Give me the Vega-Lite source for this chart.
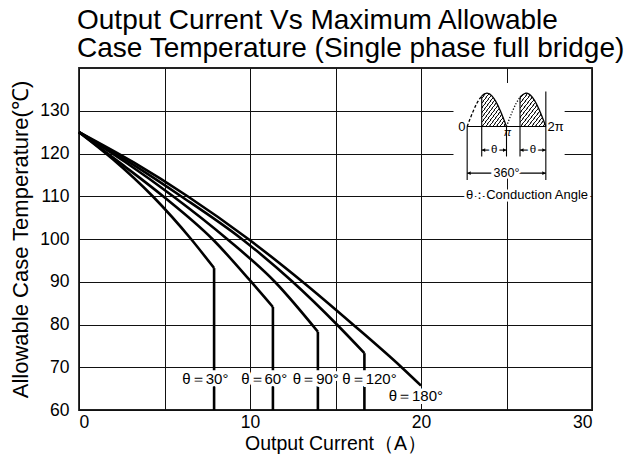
{
  "$schema": "https://vega.github.io/schema/vega-lite/v6.json",
  "width": 513,
  "height": 342,
  "autosize": {"type": "none"},
  "padding": {"left": 79, "top": 68, "right": 44, "bottom": 49},
  "background": "white",
  "title": {
    "text": ["Output Current Vs Maximum Allowable", "Case Temperature (Single phase full bridge)"],
    "anchor": "start",
    "frame": "group",
    "fontSize": 28,
    "fontWeight": "normal",
    "font": "Liberation Sans",
    "color": "#000",
    "lineHeight": 28,
    "offset": 5,
    "dx": -2
  },
  "config": {
    "view": {"stroke": "#222", "strokeWidth": 1.8},
    "axis": {
      "grid": true,
      "gridColor": "#111",
      "gridWidth": 1,
      "gridOpacity": 1,
      "domain": false,
      "ticks": false,
      "labelFont": "Liberation Sans",
      "labelFontSize": 17.5,
      "labelColor": "#000",
      "titleFont": "Liberation Sans",
      "titleFontWeight": "normal",
      "titleColor": "#000"
    }
  },
  "datasets": {
    "curves": [
      {"angle": "30", "x": 0, "y": 125}, {"angle": "30", "x": 2, "y": 118.6}, {"angle": "30", "x": 4.31, "y": 110}, {"angle": "30", "x": 6.55, "y": 100}, {"angle": "30", "x": 7.9, "y": 93.2},
      {"angle": "60", "x": 0, "y": 125}, {"angle": "60", "x": 2.4, "y": 117.8}, {"angle": "60", "x": 4.92, "y": 110}, {"angle": "60", "x": 7.8, "y": 100}, {"angle": "60", "x": 10, "y": 90.3}, {"angle": "60", "x": 11.34, "y": 84.1},
      {"angle": "90", "x": 0, "y": 125}, {"angle": "90", "x": 2.7, "y": 118.0}, {"angle": "90", "x": 5.5, "y": 110}, {"angle": "90", "x": 8.66, "y": 100}, {"angle": "90", "x": 11.45, "y": 90}, {"angle": "90", "x": 13.97, "y": 78.3},
      {"angle": "120", "x": 0, "y": 125}, {"angle": "120", "x": 3, "y": 117.8}, {"angle": "120", "x": 5.97, "y": 110}, {"angle": "120", "x": 9.52, "y": 100}, {"angle": "120", "x": 12.49, "y": 90}, {"angle": "120", "x": 15.08, "y": 80}, {"angle": "120", "x": 16.69, "y": 73.3},
      {"angle": "180", "x": 0, "y": 125}, {"angle": "180", "x": 3.2, "y": 117.9}, {"angle": "180", "x": 6.35, "y": 110}, {"angle": "180", "x": 9.9, "y": 100}, {"angle": "180", "x": 13.07, "y": 90}, {"angle": "180", "x": 16.02, "y": 80}, {"angle": "180", "x": 18.86, "y": 70}, {"angle": "180", "x": 20, "y": 65.7}
    ],
    "drops": [
      {"angle": "30", "x": 7.9, "y": 93.2, "y2": 69.3}, {"angle": "30", "x": 7.9, "y": 65.6, "y2": 60},
      {"angle": "60", "x": 11.34, "y": 84.1, "y2": 69.3}, {"angle": "60", "x": 11.34, "y": 65.6, "y2": 60},
      {"angle": "90", "x": 13.97, "y": 78.3, "y2": 69.3}, {"angle": "90", "x": 13.97, "y": 65.6, "y2": 60},
      {"angle": "120", "x": 16.69, "y": 73.3, "y2": 69.3}, {"angle": "120", "x": 16.69, "y": 65.6, "y2": 60}
    ],
    "labels": [
      {"x": 7.39, "y": 67.2, "text": "θ＝30°"},
      {"x": 10.83, "y": 67.2, "text": "θ＝60°"},
      {"x": 13.85, "y": 67.2, "text": "θ＝90°"},
      {"x": 16.99, "y": 67.2, "text": "θ＝120°"},
      {"x": 19.7, "y": 63.35, "text": "θ＝180°"}
    ],
    "insetbg": [{"x": 21.9, "x2": 28.4, "y": 114.3, "y2": 136.5}],
    "hatch": [
      {"part": "h1", "x": 23.551, "y": 133.46, "y2": 126.3}, {"part": "h1", "x": 23.85, "y": 134.1, "y2": 126.3}, {"part": "h1", "x": 24.149, "y": 133.46, "y2": 126.3}, {"part": "h1", "x": 24.425, "y": 131.81, "y2": 126.3}, {"part": "h1", "x": 24.655, "y": 129.84, "y2": 126.3}, {"part": "h1", "x": 25.0, "y": 126.3, "y2": 126.3},
      {"part": "h2", "x": 25.79, "y": 133.16, "y2": 126.3}, {"part": "h2", "x": 26.15, "y": 134.1, "y2": 126.3}, {"part": "h2", "x": 26.449, "y": 133.46, "y2": 126.3}, {"part": "h2", "x": 26.725, "y": 131.81, "y2": 126.3}, {"part": "h2", "x": 26.955, "y": 129.84, "y2": 126.3}, {"part": "h2", "x": 27.3, "y": 126.3, "y2": 126.3}
    ],
    "wave": [
      {"part": "d1", "style": "dashed", "x": 22.7, "y": 126.3}, {"part": "d1", "style": "dashed", "x": 23.045, "y": 129.84}, {"part": "d1", "style": "dashed", "x": 23.275, "y": 131.81}, {"part": "d1", "style": "dashed", "x": 23.551, "y": 133.46},
      {"part": "s1", "style": "solid", "x": 23.551, "y": 133.46}, {"part": "s1", "style": "solid", "x": 23.85, "y": 134.1}, {"part": "s1", "style": "solid", "x": 24.149, "y": 133.46}, {"part": "s1", "style": "solid", "x": 24.425, "y": 131.81}, {"part": "s1", "style": "solid", "x": 24.655, "y": 129.84}, {"part": "s1", "style": "solid", "x": 25.0, "y": 126.3},
      {"part": "d2", "style": "dotted", "x": 25.0, "y": 126.3}, {"part": "d2", "style": "dotted", "x": 25.345, "y": 129.84}, {"part": "d2", "style": "dotted", "x": 25.575, "y": 131.81}, {"part": "d2", "style": "dotted", "x": 25.79, "y": 133.16},
      {"part": "s2", "style": "solid", "x": 25.79, "y": 133.16}, {"part": "s2", "style": "solid", "x": 26.15, "y": 134.1}, {"part": "s2", "style": "solid", "x": 26.449, "y": 133.46}, {"part": "s2", "style": "solid", "x": 26.725, "y": 131.81}, {"part": "s2", "style": "solid", "x": 26.955, "y": 129.84}, {"part": "s2", "style": "solid", "x": 27.3, "y": 126.3}
    ],
    "insetrules": [
      {"x": 22.7, "y": 126.3, "x2": 27.3, "y2": 126.3},
      {"x": 22.7, "y": 126.3, "x2": 22.7, "y2": 113.8},
      {"x": 27.3, "y": 134.5, "x2": 27.3, "y2": 113.8},
      {"x": 23.551, "y": 133.46, "x2": 23.551, "y2": 119.3},
      {"x": 25.0, "y": 126.3, "x2": 25.0, "y2": 119.3},
      {"x": 25.79, "y": 133.16, "x2": 25.79, "y2": 119.3},
      {"x": 23.551, "y": 120.8, "x2": 25.0, "y2": 120.8},
      {"x": 25.79, "y": 120.8, "x2": 27.3, "y2": 120.8},
      {"x": 22.7, "y": 115.4, "x2": 27.3, "y2": 115.4}
    ],
    "arrows": [
      {"x": 23.66, "y": 120.8, "dir": "left"}, {"x": 24.89, "y": 120.8, "dir": "right"},
      {"x": 25.9, "y": 120.8, "dir": "left"}, {"x": 27.19, "y": 120.8, "dir": "right"},
      {"x": 22.81, "y": 115.4, "dir": "left"}, {"x": 27.19, "y": 115.4, "dir": "right"}
    ],
    "insettext": [
      {"x": 24.28, "y": 120.8, "text": "θ", "size": 11.5},
      {"x": 26.55, "y": 120.8, "text": "θ", "size": 11.5},
      {"x": 25.0, "y": 115.4, "text": "360°", "size": 12.5},
      {"x": 26.2, "y": 110.3, "text": "θ：Conduction Angle", "size": 13}
    ],
    "insetplain": [
      {"x": 25.05, "y": 124.9, "text": "π", "size": 11}
    ],
    "insetright": [{"x": 22.6, "y": 126.3, "text": "0"}],
    "insetleft": [{"x": 27.4, "y": 126.3, "text": "2π"}]
  },
  "encoding": {
    "x": {
      "field": "x",
      "type": "quantitative",
      "scale": {"domain": [0, 30], "nice": false, "zero": false},
      "axis": {
        "values": [0, 5, 10, 15, 20, 25, 30],
        "labelExpr": "datum.value % 10 === 0 ? datum.label : ''",
        "title": "Output Current（A）",
        "titleFontSize": 19.5,
        "labelPadding": 3,
        "titlePadding": 4
      }
    },
    "y": {
      "field": "y",
      "type": "quantitative",
      "scale": {"domain": [60, 140], "nice": false, "zero": false},
      "axis": {
        "values": [60, 70, 80, 90, 100, 110, 120, 130],
        "title": "Allowable Case Temperature(℃)",
        "titleFontSize": 22,
        "labelPadding": 10,
        "titlePadding": 7
      }
    }
  },
  "layer": [
    {
      "data": {"name": "insetbg"},
      "mark": {"type": "rect", "fill": "white", "stroke": null},
      "encoding": {"x2": {"field": "x2"}, "y2": {"field": "y2"}}
    },
    {
      "data": {"name": "curves"},
      "mark": {"type": "line", "color": "#000", "strokeWidth": 2.6, "interpolate": "monotone"},
      "encoding": {"detail": {"field": "angle"}}
    },
    {
      "data": {"name": "drops"},
      "mark": {"type": "rule", "color": "#000", "strokeWidth": 2.6, "strokeCap": "butt"},
      "encoding": {"y2": {"field": "y2"}}
    },
    {
      "data": {"name": "labels"},
      "mark": {"type": "text", "font": "Liberation Sans", "fontSize": 15, "fill": "white", "stroke": "white", "strokeWidth": 6, "baseline": "middle", "align": "center"},
      "encoding": {"text": {"field": "text"}}
    },
    {
      "data": {"name": "labels"},
      "mark": {"type": "text", "font": "Liberation Sans", "fontSize": 15, "color": "#000", "baseline": "middle", "align": "center"},
      "encoding": {"text": {"field": "text"}}
    },
    {
      "data": {"name": "hatch"},
      "mark": {
        "type": "area",
        "interpolate": "monotone",
        "fill": {
          "gradient": "linear",
          "x1": 0, "y1": 0, "x2": 1, "y2": 1,
          "stops": [
            {"offset": 0, "color": "#111"}, {"offset": 0.016, "color": "#111"}, {"offset": 0.022, "color": "#fff"}, {"offset": 0.066, "color": "#fff"},
            {"offset": 0.071, "color": "#111"}, {"offset": 0.087, "color": "#111"}, {"offset": 0.093, "color": "#fff"}, {"offset": 0.137, "color": "#fff"},
            {"offset": 0.143, "color": "#111"}, {"offset": 0.159, "color": "#111"}, {"offset": 0.165, "color": "#fff"}, {"offset": 0.209, "color": "#fff"},
            {"offset": 0.214, "color": "#111"}, {"offset": 0.23, "color": "#111"}, {"offset": 0.236, "color": "#fff"}, {"offset": 0.28, "color": "#fff"},
            {"offset": 0.286, "color": "#111"}, {"offset": 0.302, "color": "#111"}, {"offset": 0.308, "color": "#fff"}, {"offset": 0.352, "color": "#fff"},
            {"offset": 0.357, "color": "#111"}, {"offset": 0.373, "color": "#111"}, {"offset": 0.379, "color": "#fff"}, {"offset": 0.423, "color": "#fff"},
            {"offset": 0.429, "color": "#111"}, {"offset": 0.445, "color": "#111"}, {"offset": 0.451, "color": "#fff"}, {"offset": 0.495, "color": "#fff"},
            {"offset": 0.5, "color": "#111"}, {"offset": 0.516, "color": "#111"}, {"offset": 0.522, "color": "#fff"}, {"offset": 0.566, "color": "#fff"},
            {"offset": 0.571, "color": "#111"}, {"offset": 0.587, "color": "#111"}, {"offset": 0.593, "color": "#fff"}, {"offset": 0.637, "color": "#fff"},
            {"offset": 0.643, "color": "#111"}, {"offset": 0.659, "color": "#111"}, {"offset": 0.665, "color": "#fff"}, {"offset": 0.709, "color": "#fff"},
            {"offset": 0.714, "color": "#111"}, {"offset": 0.73, "color": "#111"}, {"offset": 0.736, "color": "#fff"}, {"offset": 0.78, "color": "#fff"},
            {"offset": 0.786, "color": "#111"}, {"offset": 0.802, "color": "#111"}, {"offset": 0.808, "color": "#fff"}, {"offset": 0.852, "color": "#fff"},
            {"offset": 0.857, "color": "#111"}, {"offset": 0.873, "color": "#111"}, {"offset": 0.879, "color": "#fff"}, {"offset": 0.923, "color": "#fff"},
            {"offset": 0.929, "color": "#111"}, {"offset": 0.945, "color": "#111"}, {"offset": 0.951, "color": "#fff"}, {"offset": 0.995, "color": "#fff"},
            {"offset": 1, "color": "#111"}
          ]
        }
      },
      "encoding": {"y2": {"field": "y2"}, "detail": {"field": "part"}}
    },
    {
      "data": {"name": "wave"},
      "mark": {"type": "line", "color": "#000", "strokeWidth": 1.3, "interpolate": "monotone"},
      "encoding": {
        "detail": {"field": "part"},
        "strokeDash": {"field": "style", "type": "nominal", "scale": {"domain": ["solid", "dashed", "dotted"], "range": [[1, 0], [3, 2], [1.2, 1.8]]}, "legend": null}
      }
    },
    {
      "data": {"name": "insetrules"},
      "mark": {"type": "rule", "color": "#000", "strokeWidth": 1.1},
      "encoding": {"x2": {"field": "x2"}, "y2": {"field": "y2"}}
    },
    {
      "data": {"name": "insettext"},
      "mark": {"type": "text", "font": "Liberation Sans", "fill": "white", "stroke": "white", "strokeWidth": 5, "baseline": "middle", "align": "center"},
      "encoding": {"text": {"field": "text"}, "size": {"field": "size", "type": "quantitative", "scale": null}}
    },
    {
      "data": {"name": "arrows"},
      "mark": {"type": "point", "filled": true, "color": "#000", "size": 14, "opacity": 1},
      "encoding": {"shape": {"field": "dir", "type": "nominal", "scale": {"domain": ["left", "right"], "range": ["triangle-left", "triangle-right"]}, "legend": null}}
    },
    {
      "data": {"name": "insettext"},
      "mark": {"type": "text", "font": "Liberation Sans", "color": "#000", "baseline": "middle", "align": "center"},
      "encoding": {"text": {"field": "text"}, "size": {"field": "size", "type": "quantitative", "scale": null}}
    },
    {
      "data": {"name": "insetplain"},
      "mark": {"type": "text", "font": "Liberation Sans", "color": "#000", "baseline": "middle", "align": "center", "fontStyle": "italic"},
      "encoding": {"text": {"field": "text"}, "size": {"field": "size", "type": "quantitative", "scale": null}}
    },
    {
      "data": {"name": "insetright"},
      "mark": {"type": "text", "font": "Liberation Sans", "fontSize": 13, "color": "#000", "baseline": "middle", "align": "right"},
      "encoding": {"text": {"field": "text"}}
    },
    {
      "data": {"name": "insetleft"},
      "mark": {"type": "text", "font": "Liberation Sans", "fontSize": 13, "color": "#000", "baseline": "middle", "align": "left"},
      "encoding": {"text": {"field": "text"}}
    }
  ]
}
